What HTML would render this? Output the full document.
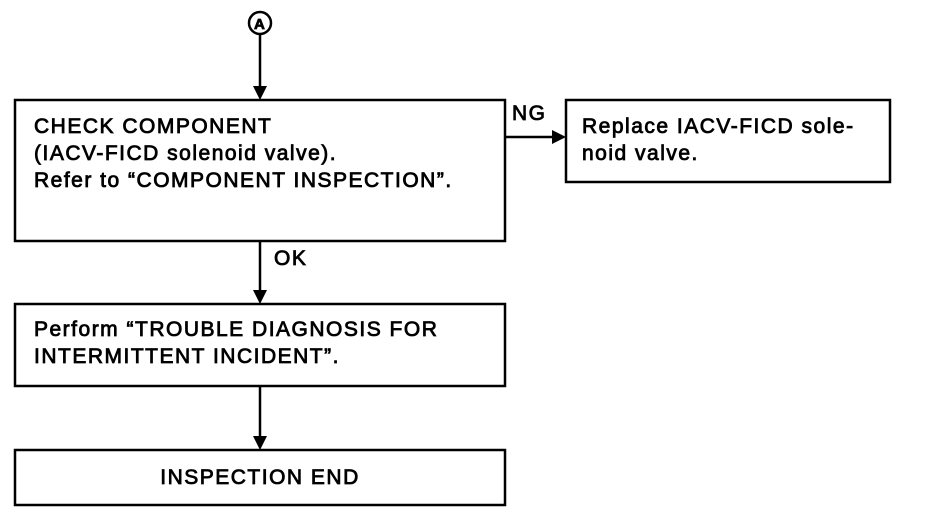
<!DOCTYPE html>
<html><head><style>
body{margin:0;background:#fff;width:928px;height:516px;overflow:hidden}
svg{display:block}
text{font-family:"Liberation Sans",Arial,sans-serif;font-size:21px;letter-spacing:1.5px;fill:#000;stroke:#000;stroke-width:0.8}
</style></head><body>
<svg width="928" height="516" viewBox="0 0 928 516">
<g fill="none" stroke="#000" stroke-width="2.5">
<circle cx="260" cy="23" r="11"/>
<rect x="15" y="100" width="490" height="141"/>
<rect x="566" y="100" width="324" height="82"/>
<rect x="15" y="304" width="490" height="82"/>
<rect x="15" y="450" width="490" height="55"/>
<line x1="260" y1="34" x2="260" y2="88"/>
<line x1="260" y1="241" x2="260" y2="292"/>
<line x1="260" y1="386" x2="260" y2="438"/>
<line x1="505" y1="137" x2="554" y2="137"/>
</g>
<g fill="#000">
<polygon points="253,86 267,86 260,100"/>
<polygon points="253,290 267,290 260,304"/>
<polygon points="253,436 267,436 260,450"/>
<polygon points="552,130 552,144 566,137"/>
</g>
<text x="254" y="29" style="font-size:15px;font-weight:bold;letter-spacing:0">A</text>
<text x="34" y="133">CHECK COMPONENT</text>
<text x="34" y="160">(IACV-FICD solenoid valve).</text>
<text x="34" y="187">Refer to “COMPONENT INSPECTION”.</text>
<text x="512" y="120">NG</text>
<text x="582" y="133">Replace IACV-FICD sole-</text>
<text x="582" y="160">noid valve.</text>
<text x="274" y="265">OK</text>
<text x="34" y="336">Perform “TROUBLE DIAGNOSIS FOR</text>
<text x="34" y="363">INTERMITTENT INCIDENT”.</text>
<text x="260" y="484" text-anchor="middle">INSPECTION END</text>
</svg>
</body></html>
